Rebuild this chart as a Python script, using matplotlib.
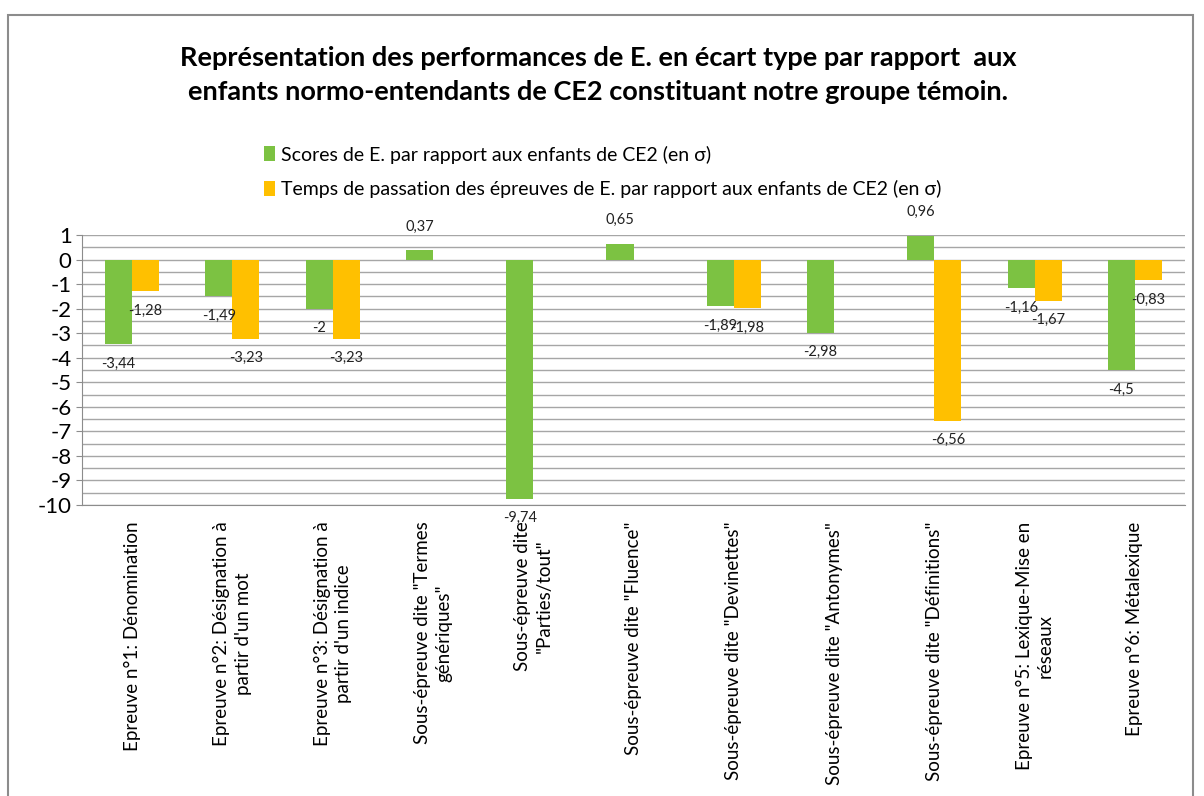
import numpy as np
import matplotlib
matplotlib.use("Agg")
import matplotlib.pyplot as plt
from matplotlib.patches import Rectangle

plt.rcParams['font.family'] = ['Lato', 'DejaVu Sans']
plt.rcParams['axes.unicode_minus'] = False

# categories (x tick labels)
categories = [
    "Epreuve n°1: Dénomination",
    "Epreuve n°2: Désignation à\npartir d'un mot",
    "Epreuve n°3: Désignation à\npartir d'un indice",
    "Sous-épreuve dite \"Termes\ngénériques\"",
    "Sous-épreuve dite\n\"Parties/tout\"",
    "Sous-épreuve dite \"Fluence\"",
    "Sous-épreuve dite \"Devinettes\"",
    "Sous-épreuve dite \"Antonymes\"",
    "Sous-épreuve dite \"Définitions\"",
    "Epreuve n°5: Lexique-Mise en\nréseaux",
    "Epreuve n°6: Métalexique",
]
scores = [-3.44, -1.49, -2, 0.37, -9.74, 0.65, -1.89, -2.98, 0.96, -1.16, -4.5]
temps = [-1.28, -3.23, -3.23, np.nan, np.nan, np.nan, -1.98, np.nan, -6.56, -1.67, -0.83]

label_scores = "Scores de E. par rapport aux enfants de CE2 (en σ)"
label_temps = "Temps de passation des épreuves de E. par rapport aux enfants de CE2 (en σ)"
title = ("Représentation des performances de E. en écart type par rapport  aux\n"
         "enfants normo-entendants de CE2 constituant notre groupe témoin.")

green = '#7cc242'
orange = '#ffc000'

fig = plt.figure(figsize=(12.04, 7.96), dpi=100)
# outer chart frame
fig.patches.append(Rectangle((8 / 1204, -0.05), 1185 / 1204, 1 - 15 / 796 + 0.05,
                             transform=fig.transFigure, fill=False,
                             edgecolor='#8c8c8c', linewidth=1.5))

ax = fig.add_axes([82 / 1204, 1 - 505 / 796, (1185 - 82) / 1204, (505 - 235) / 796])

x = np.arange(len(categories))
w = 0.27
b1 = ax.bar(x - w / 2, scores, w, color=green, label=label_scores, zorder=3)
b2 = ax.bar(x + w / 2, temps, w, color=orange, label=label_temps, zorder=3)

def fmt(v):
    s = ('%g' % v).replace('.', ',')
    return s

for bars, vals in ((b1, scores), (b2, temps)):
    for rect, v in zip(bars, vals):
        if np.isnan(v):
            continue
        cx = rect.get_x() + rect.get_width() / 2
        if v >= 0:
            ax.annotate(fmt(v), (cx, v), xytext=(0, 12), textcoords='offset points',
                        ha='center', va='bottom', fontsize=10.5, color='#222222')
        else:
            ax.annotate(fmt(v), (cx, v), xytext=(0, -9), textcoords='offset points',
                        ha='center', va='top', fontsize=10.5, color='#222222')

ax.set_xlim(-0.5, len(categories) - 0.5)
ax.set_ylim(-10, 1)
ax.set_yticks(range(-10, 2))
ax.set_yticks(np.arange(-10, 1.01, 0.5), minor=True)
ax.tick_params(axis='y', labelsize=16, length=4, color='#8c8c8c', which='major')
ax.tick_params(axis='y', which='minor', length=0)
ax.grid(axis='y', which='both', color='#a6a6a6', linewidth=1, zorder=0)
ax.set_xticks(x)
ax.set_xticklabels(categories, rotation=90, fontsize=13.5, ha='center', va='top',
                   multialignment='center', linespacing=1.3)
ax.tick_params(axis='x', length=0, pad=12)
for s in ('top', 'right'):
    ax.spines[s].set_visible(False)
for s in ('left', 'bottom'):
    ax.spines[s].set_color('#8c8c8c')

fig.text(0.497, 1 - 75 / 796, title, ha='center', va='center', fontsize=19.5,
         fontweight='bold', linespacing=1.5)
fig.legend(handles=[b1, b2], loc='upper left', bbox_to_anchor=(246 / 1204, 1 - 128 / 796),
           frameon=False, fontsize=14, handlelength=0.6, handleheight=0.8,
           handletextpad=0.3, labelspacing=0.85)

fig.savefig('out.png', dpi=100)
